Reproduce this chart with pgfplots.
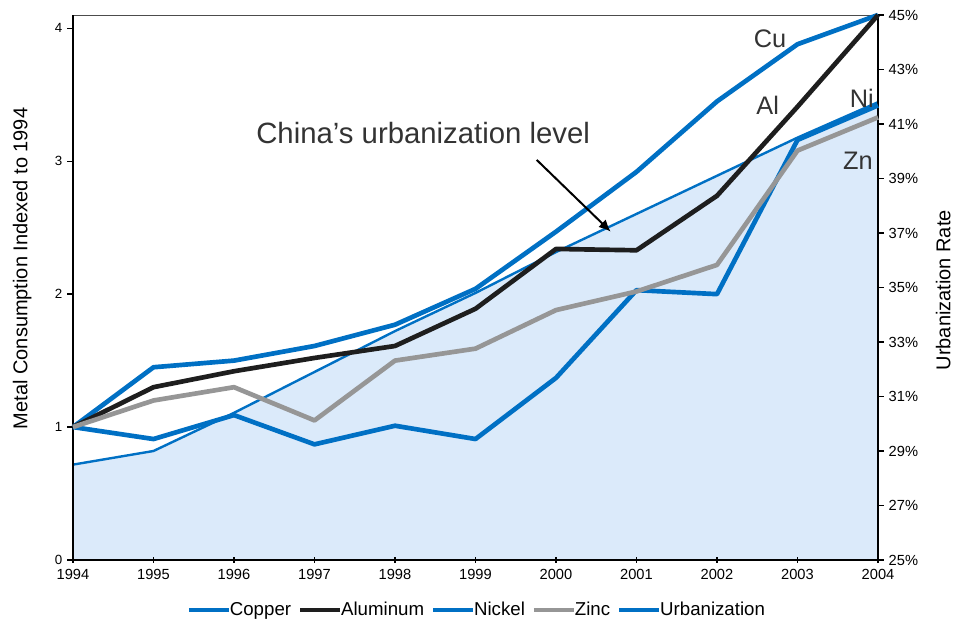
\documentclass[border=0pt]{standalone}
\usepackage{pgfplots}
\pgfplotsset{compat=1.18}
\usepackage{fontspec}
\setmainfont{Liberation Sans}
\usetikzlibrary{arrows.meta}

\definecolor{cublue}{RGB}{0,112,196}
\definecolor{urbfill}{RGB}{219,234,250}
\definecolor{zngray}{RGB}{150,150,150}
\definecolor{alblack}{RGB}{30,30,30}

\begin{document}
\begin{tikzpicture}
\pgfplotsset{
  every axis/.append style={
    width=603.75pt, height=408.75pt, scale only axis,
    xmin=1994, xmax=2004,
    /pgf/number format/assume math mode=true,
    /pgf/number format/1000 sep={},
  },
  metal/.style={line width=3.5pt, line join=round},
}

% right axis: urbanization rate (drawn first, fill in the back)
\begin{axis}[
  axis y line*=right,
  axis x line*=top,
  x axis line style={line width=0.6pt, draw=black!70},
  y axis line style={line width=1.6pt},
  xtick=\empty,
  ymin=25, ymax=45,
  ytick={25,27,...,45},
  yticklabel={\pgfmathprintnumber{\tick}\%},
  yticklabel style={font=\fontsize{11}{13}\selectfont},
  ytick style={line width=1pt, black},
  tick align=outside,
  major tick length=4.5pt,
  ylabel={Urbanization Rate},
  every axis y label/.style={at={(axis description cs:1.081,0.495)}, rotate=90, anchor=center, font=\fontsize{15}{18}\selectfont},
  axis on top,
]
\addplot[fill=urbfill, draw=none] coordinates {
  (1994,28.5) (1995,29.0) (1996,30.4) (1997,31.9) (1998,33.4) (1999,34.8)
  (2000,36.3) (2001,37.7) (2002,39.1) (2003,40.5) (2004,41.8)
} \closedcycle;
\addplot[cublue, line width=1.8pt] coordinates {
  (1994,28.5) (1995,29.0) (1996,30.4) (1997,31.9) (1998,33.4) (1999,34.8)
  (2000,36.3) (2001,37.7) (2002,39.1) (2003,40.5) (2004,41.8)
};
\end{axis}

% left axis: metal consumption
\begin{axis}[
  axis y line*=left,
  axis x line*=bottom,
  axis line style={line width=1.6pt},
  ymin=0, ymax=4.1,
  ytick={0,1,2,3,4},
  xtick={1994,1995,...,2004},
  yticklabel style={font=\fontsize{10}{12}\selectfont},
  xticklabel style={font=\fontsize{11}{13}\selectfont, yshift=-1pt},
  tick style={line width=1pt, black},
  ytick align=outside,
  xtick align=center,
  major tick length=4.5pt,
  ylabel={Metal Consumption Indexed to 1994},
  every axis y label/.style={at={(axis description cs:-0.063,0.535)}, rotate=90, anchor=center, font=\fontsize{15}{18}\selectfont},
  clip=false,
  legend columns=5,
  legend style={at={(axis description cs:0.502,-0.092)}, anchor=center, draw=none, fill=none,
    font=\fontsize{14}{16}\selectfont,
    /tikz/every odd column/.append style={column sep=-3pt},
    /tikz/every even column/.append style={column sep=3pt}},
  legend image code/.code={\draw[#1, line width=3.5pt] (0pt,0pt) -- (30pt,0pt);},
]
\addplot[metal, cublue] coordinates {
  (1994,1.00) (1995,1.45) (1996,1.50) (1997,1.61) (1998,1.77) (1999,2.04)
  (2000,2.47) (2001,2.92) (2002,3.45) (2003,3.88) (2004,4.10)
};
\addlegendentry{Copper}
\addplot[metal, alblack] coordinates {
  (1994,1.00) (1995,1.30) (1996,1.42) (1997,1.52) (1998,1.61) (1999,1.89)
  (2000,2.34) (2001,2.33) (2002,2.74) (2003,3.41) (2004,4.10)
};
\addlegendentry{Aluminum}
\addplot[metal, cublue] coordinates {
  (1994,1.00) (1995,0.91) (1996,1.09) (1997,0.87) (1998,1.01) (1999,0.91)
  (2000,1.37) (2001,2.03) (2002,2.00) (2003,3.16) (2004,3.42)
};
\addlegendentry{Nickel}
\addplot[metal, zngray] coordinates {
  (1994,1.00) (1995,1.20) (1996,1.30) (1997,1.05) (1998,1.50) (1999,1.59)
  (2000,1.88) (2001,2.02) (2002,2.22) (2003,3.08) (2004,3.33)
};
\addlegendentry{Zinc}
\addlegendimage{cublue, line width=2.5pt}
\addlegendentry{Urbanization}

\node[font=\fontsize{22}{26}\selectfont, text=black!80] at (axis cs:1998.35,3.21) {China's urbanization level};
\draw[line width=1.5pt, -{Latex[length=9pt,width=8pt]}] (axis cs:1999.76,3.01) -- (axis cs:2000.68,2.47);
\node[font=\fontsize{19}{22}\selectfont, text=black!80] at (axis cs:2002.66,3.92) {Cu};
\node[font=\fontsize{19}{22}\selectfont, text=black!80] at (axis cs:2002.63,3.42) {Al};
\node[font=\fontsize{19}{22}\selectfont, text=black!80] at (axis cs:2003.80,3.47) {Ni};
\node[font=\fontsize{19}{22}\selectfont, text=black!80] at (axis cs:2003.75,3.00) {Zn};
\end{axis}

\pgfresetboundingbox
\path[use as bounding box] (-54.75pt,-48pt) rectangle (663pt,420pt);
\end{tikzpicture}
\end{document}
